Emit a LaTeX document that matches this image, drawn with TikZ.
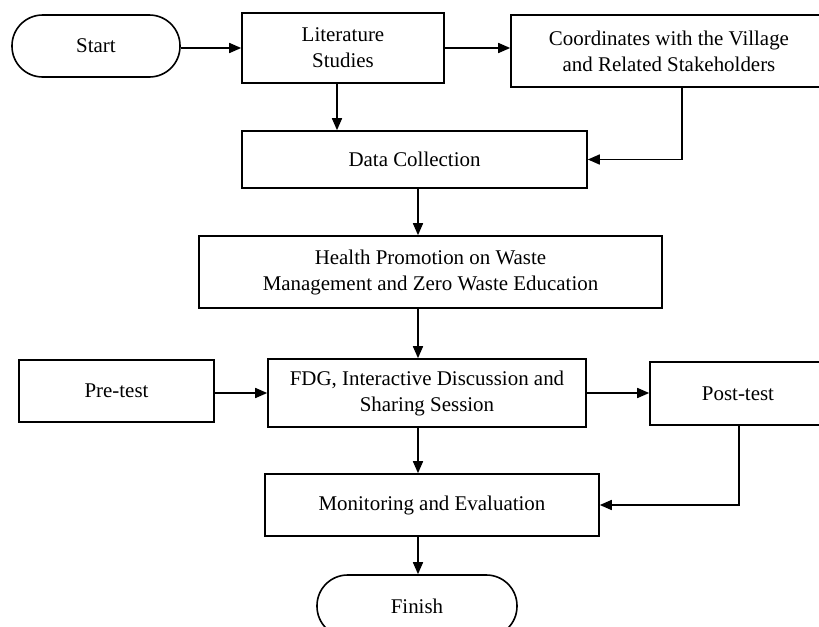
\documentclass[tikz,border=0pt]{standalone}
\usepackage{fontspec}
\setmainfont{Liberation Serif}
\usetikzlibrary{arrows.meta}

\tikzset{
  stepbox/.style={draw, line width=1.2pt, rectangle, align=center, inner sep=0pt,
    font=\fontsize{15.7}{19.5}\selectfont},
  termbox/.style={stepbox, rounded corners=23pt},
  flow/.style={line width=1.2pt, -{Triangle[length=9pt,width=7.5pt]}}
}

\begin{document}
\begin{tikzpicture}[x=0.75pt,y=0.75pt,yscale=-1,xscale=1]
        \useasboundingbox (0,0) rectangle (819,626);

        %Shape: Terminator (start)
        \node [termbox, minimum width=126pt, minimum height=46.5pt] (start) at (96,46) {Start};
        %Shape: Rectangle (literature)
        \node [stepbox, minimum width=151.5pt, minimum height=52.5pt] (lit) at (343,48) {Literature\\Studies};
        %Shape: Rectangle (coordination)
        \node [stepbox, minimum width=237pt, minimum height=54pt] (coord) at (669,51) {Coordinates with the Village\\and Related Stakeholders};
        %Shape: Rectangle (data)
        \node [stepbox, minimum width=258.75pt, minimum height=42.75pt] (data) at (414.5,159.5) {Data Collection};
        %Shape: Rectangle (promotion)
        \node [stepbox, minimum width=347.25pt, minimum height=54pt] (health) at (430.5,272) {Health Promotion on Waste\\Management and Zero Waste Education};
        %Shape: Rectangle (pre-test)
        \node [stepbox, minimum width=146.25pt, minimum height=46.5pt] (pre) at (116.5,391) {Pre-test};
        %Shape: Rectangle (discussion)
        \node [stepbox, minimum width=238.5pt, minimum height=51pt] (fdg) at (427,393) {FDG, Interactive Discussion and\\Sharing Session};
        %Shape: Rectangle (post-test)
        \node [stepbox, minimum width=132pt, minimum height=47.25pt] (post) at (738,393.5) {Post-test};
        %Shape: Rectangle (monitoring)
        \node [stepbox, minimum width=250.5pt, minimum height=46.5pt] (mon) at (432,505) {Monitoring and Evaluation};
        %Shape: Terminator (finish)
        \node [termbox, minimum width=150pt, minimum height=46.5pt] (finish) at (417,606) {Finish};

        % helper columns for the vertical lines
        \coordinate (litcol) at (337,0);
        \coordinate (coordcol) at (682,0);
        \coordinate (spine) at (418,0);
        \coordinate (postcol) at (739,0);

        %Straight Lines
        \draw [flow] (start.east |- lit) -- (lit.west);
        \draw [flow] (lit.east) -- (lit.east -| coord.west);
        \draw [flow] (lit.south -| litcol) -- (data.north -| litcol);
        \draw [flow] (coord.south -| coordcol) |- (data.east);
        \draw [flow] (data.south -| spine) -- (health.north -| spine);
        \draw [flow] (health.south -| spine) -- (fdg.north -| spine);
        \draw [flow] (pre.east |- fdg) -- (fdg.west);
        \draw [flow] (fdg.east) -- (fdg.east -| post.west);
        \draw [flow] (fdg.south -| spine) -- (mon.north -| spine);
        \draw [flow] (post.south -| postcol) |- (mon.east);
        \draw [flow] (mon.south -| spine) -- (finish.north -| spine);

\end{tikzpicture}
\end{document}
